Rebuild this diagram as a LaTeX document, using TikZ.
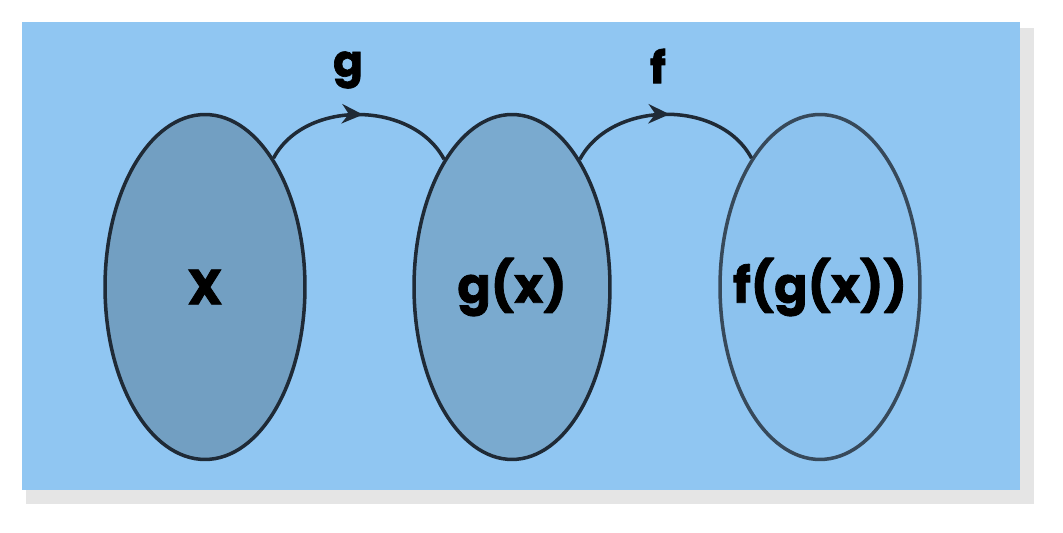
\documentclass[tikz,border=0pt]{standalone}
\usepackage{fontspec}
\setmainfont{Poppins}[FakeBold=1.6]
\usetikzlibrary{shapes.geometric,decorations.markings,arrows.meta}
\definecolor{bg}{HTML}{90C6F2}
\definecolor{e1}{HTML}{729FC2}
\definecolor{e2}{HTML}{7AAACF}
\definecolor{e3}{HTML}{8CC2EE}
\definecolor{ln}{HTML}{1F2A36}
\definecolor{ln3}{HTML}{37495A}
\begin{document}
\begin{tikzpicture}[x=0.02cm,y=-0.02cm,
  set/.style={ellipse,draw=ln,line width=2pt,minimum width=4cm,minimum height=6.9cm,inner sep=0pt},
  txt/.style={font=\fontsize{28}{30}\selectfont\bfseries,text=black},
  map/.style={draw=ln,line width=2pt,postaction={decorate},decoration={markings,mark=at position 0.52 with {\arrow{Stealth[length=12pt,width=11pt]}}}},
  lab/.style={font=\fontsize{25}{28}\selectfont\bfseries,text=black}]
\useasboundingbox (0,0) rectangle (1063,533);
\fill[black!18] (30,32) rectangle (1030,500);
\fill[black!10] (26,28) rectangle (1034,504);
\fill[bg] (22,22) rectangle (1020,490);
\node[set,fill=e1] (a) at (205,287) {};
\node[set,fill=e2,minimum width=3.92cm] (b) at (512,287) {};
\node[set,fill=e3,draw=ln3] (c) at (820,287) {};
\node[txt] (ta) at (a) {X};
\node[txt] (tb) at (b) {g(x)};
\node[txt] (tc) at (c) {f(g(x))};
\draw[map] (a.62) to[out=62,in=118] (b.118);
\draw[map] (b.62) to[out=62,in=118] (c.118);
\node[lab] (g) at (348,70) {g};
\node[lab] (f) at (658,66) {f};
\end{tikzpicture}
\end{document}
